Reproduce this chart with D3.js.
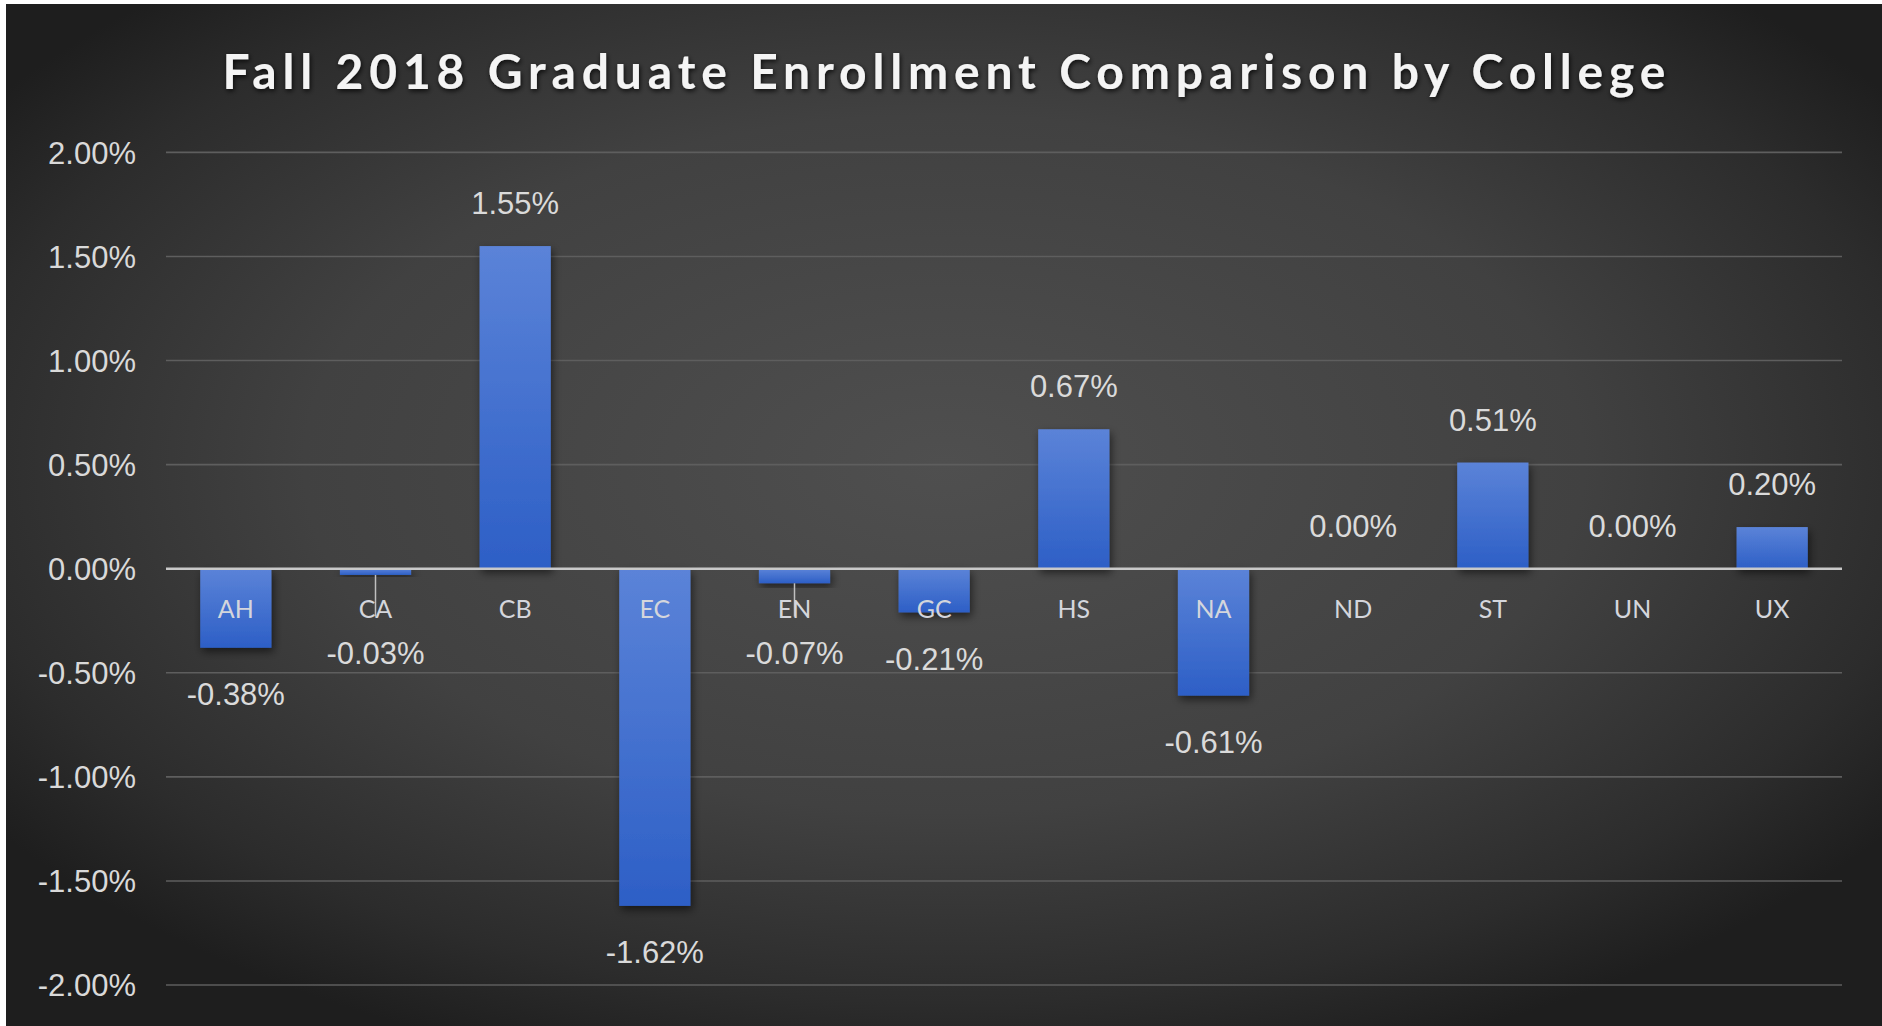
<!DOCTYPE html>
<html>
<head>
<meta charset="utf-8">
<script src="https://cdn.jsdelivr.net/npm/d3@7"></script>
<style>
  html, body { margin: 0; padding: 0; background: #ffffff; }
  svg { display: block; }
</style>
</head>
<body>
<svg id="chart" width="1882" height="1026"></svg>
<script>
// ---- data ----
const categories = ["AH", "CA", "CB", "EC", "EN", "GC", "HS", "NA", "ND", "ST", "UN", "UX"];
const values = [-0.38, -0.03, 1.55, -1.62, -0.07, -0.21, 0.67, -0.61, 0.00, 0.51, 0.00, 0.20];
const yTicks = [2.0, 1.5, 1.0, 0.5, 0.0, -0.5, -1.0, -1.5, -2.0];
const titleText = "Fall 2018 Graduate Enrollment Comparison by College";

const W = 1882, H = 1026;
const svg = d3.select("#chart");
const defs = svg.append("defs");

// background gradient
const bg = defs.append("radialGradient").attr("id", "bgGrad")
  .attr("cx", 0.5).attr("cy", 0.45).attr("r", 0.62);
bg.append("stop").attr("offset", "0%").attr("stop-color", "#4f4f4f");
bg.append("stop").attr("offset", "55%").attr("stop-color", "#414141");
bg.append("stop").attr("offset", "85%").attr("stop-color", "#2c2c2c");
bg.append("stop").attr("offset", "100%").attr("stop-color", "#1e1e1e");

// bar gradient
const bar = defs.append("linearGradient").attr("id", "barGrad")
  .attr("x1", 0).attr("y1", 0).attr("x2", 0).attr("y2", 1);
bar.append("stop").attr("offset", "0%").attr("stop-color", "#5b83d8");
bar.append("stop").attr("offset", "100%").attr("stop-color", "#2d5fc6");

const shadow = defs.append("filter").attr("id", "shadow")
  .attr("x", "-30%").attr("y", "-30%").attr("width", "160%").attr("height", "160%");
shadow.append("feDropShadow").attr("dx", 2).attr("dy", 4).attr("stdDeviation", 4)
  .attr("flood-color", "#000").attr("flood-opacity", 0.55);

const tshadow = defs.append("filter").attr("id", "tshadow")
  .attr("x", "-5%").attr("y", "-30%").attr("width", "110%").attr("height", "160%");
tshadow.append("feDropShadow").attr("dx", 1).attr("dy", 2).attr("stdDeviation", 2.5)
  .attr("flood-color", "#000").attr("flood-opacity", 0.8);

// white frame edges then background
svg.append("rect").attr("x", 0).attr("y", 0).attr("width", W).attr("height", H).attr("fill", "#ffffff");
svg.append("rect").attr("x", 6).attr("y", 4).attr("width", W - 6).attr("height", H - 4).attr("fill", "url(#bgGrad)");

// scales
const x = d3.scaleBand().domain(categories).range([166, 1842])
  .paddingInner(0.49).paddingOuter(0.245);
const y = d3.scaleLinear().domain([-2, 2]).range([985, 152.4]);
const y0 = y(0);

// number format with plain hyphen minus
const locale = d3.formatLocale({ decimal: ".", thousands: ",", grouping: [3], currency: ["", ""], minus: "-" });
const fmt = d => locale.format(".2f")(d) + "%";

// gridlines
svg.append("g").selectAll("line").data(yTicks.filter(d => d !== 0)).join("line")
  .attr("x1", 166).attr("x2", 1842)
  .attr("y1", d => y(d)).attr("y2", d => y(d))
  .attr("stroke", "#5e5e5e").attr("stroke-width", 1.6);

// y axis labels
svg.append("g").selectAll("text").data(yTicks).join("text")
  .attr("x", 136).attr("y", d => y(d)).attr("dy", "0.36em")
  .attr("text-anchor", "end")
  .attr("font-family", "'Liberation Sans', Arial, sans-serif")
  .attr("font-size", 31).attr("fill", "#d9d9d9")
  .text(fmt);

// bars
const data = categories.map((c, i) => ({ c, v: values[i] }));
svg.append("g").selectAll("rect").data(data.filter(d => d.v !== 0)).join("rect")
  .attr("x", d => x(d.c)).attr("width", x.bandwidth())
  .attr("y", d => Math.min(y(d.v), y0))
  .attr("height", d => Math.abs(y(d.v) - y0))
  .attr("fill", "url(#barGrad)")
  .attr("filter", "url(#shadow)");

// zero line
svg.append("line").attr("x1", 166).attr("x2", 1842).attr("y1", y0).attr("y2", y0)
  .attr("stroke", "#c9c9c9").attr("stroke-width", 2.5);

// label positions
const labelCenter = d => d.v >= 0 ? y(d.v) - 43 : Math.max(y(d.v) + 46, y0 + 84);

// leader lines for pushed labels
svg.append("g").selectAll("line")
  .data(data.filter(d => d.v < 0 && (y0 + 84) - (y(d.v) + 46) > 15)).join("line")
  .attr("x1", d => x(d.c) + x.bandwidth() / 2).attr("x2", d => x(d.c) + x.bandwidth() / 2)
  .attr("y1", d => y(d.v)).attr("y2", y0 + 48)
  .attr("stroke", "#bfbfbf").attr("stroke-width", 1.5);

// category labels
svg.append("g").selectAll("text").data(data).join("text")
  .attr("x", d => x(d.c) + x.bandwidth() / 2).attr("y", y0 + 40)
  .attr("dy", "0.36em").attr("text-anchor", "middle")
  .attr("font-family", "Lato, 'Open Sans', sans-serif")
  .attr("font-size", 25).attr("fill", "#d4d6dc")
  .text(d => d.c);

// data labels
svg.append("g").selectAll("text").data(data).join("text")
  .attr("x", d => x(d.c) + x.bandwidth() / 2).attr("y", d => labelCenter(d))
  .attr("dy", "0.36em").attr("text-anchor", "middle")
  .attr("font-family", "'Liberation Sans', Arial, sans-serif")
  .attr("font-size", 31).attr("fill", "#dadada")
  .text(d => fmt(d.v));

// title
svg.append("text")
  .attr("x", 944).attr("y", 89).attr("text-anchor", "middle")
  .attr("font-family", "Lato, 'Open Sans', sans-serif").attr("font-weight", "bold")
  .attr("font-size", 48).attr("fill", "#f4f4f4")
  .attr("textLength", 1443).attr("lengthAdjust", "spacing")
  .attr("filter", "url(#tshadow)")
  .text(titleText);
</script>
</body>
</html>
